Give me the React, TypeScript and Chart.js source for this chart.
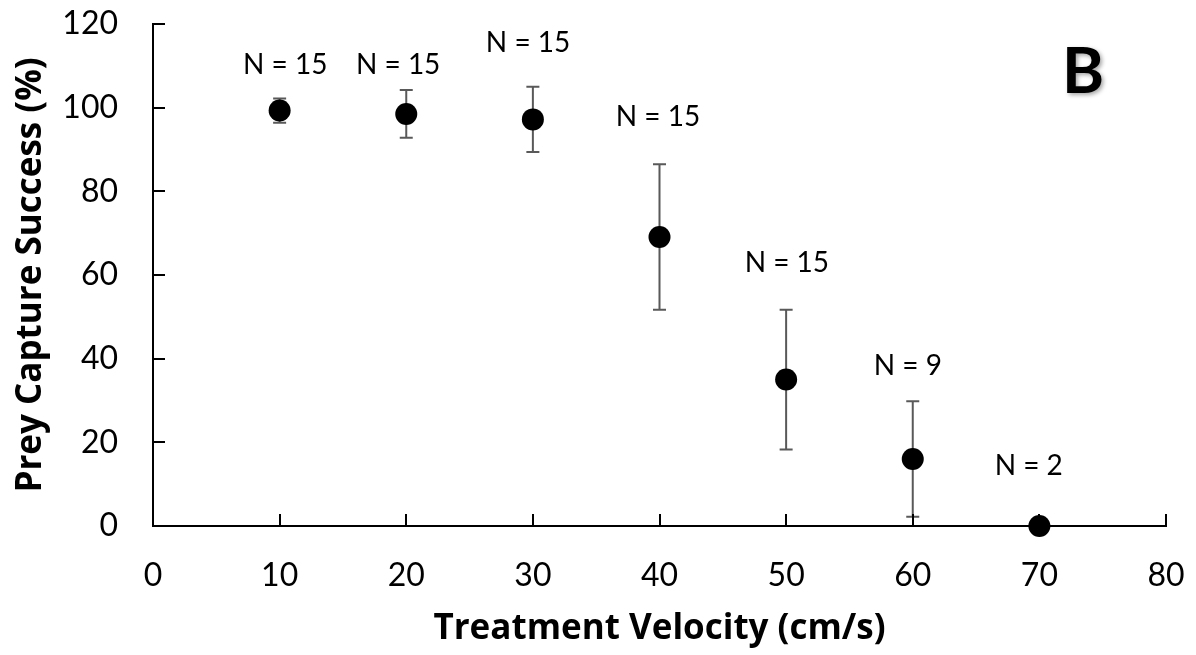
import React, { useEffect, useRef } from "react";
import { Chart, registerables } from "chart.js";

Chart.register(...registerables);

const velocities = [10, 20, 30, 40, 50, 60, 70];
const captureSuccess = [99.3, 98.5, 97.2, 69.1, 35.0, 16.0, 0];
const errorSize = [2.9, 5.7, 7.8, 17.4, 16.7, 13.8, 0];
const sampleLabels = ["N = 15", "N = 15", "N = 15", "N = 15", "N = 15", "N = 9", "N = 2"];
const labelX = [10.44, 19.36, 29.62, 39.88, 50.06, 59.61, 69.16];
const labelY = [110.5, 110.5, 115.65, 98.1, 63.1, 38.6, 14.7];
const xTicks = [0, 10, 20, 30, 40, 50, 60, 70, 80];
const yTicks = [0, 20, 40, 60, 80, 100, 120];
const panelLetter = "B";

const FONT = "Lato, 'Open Sans', sans-serif";
const TITLE_FONT = "'Open Sans', Lato, sans-serif";

const overlay = {
  id: "overlay",
  beforeDatasetsDraw(chart: any) {
    const { ctx, scales } = chart;
    const xs = scales.x;
    const ys = scales.y;
    ctx.save();
    ctx.strokeStyle = "#595959";
    ctx.lineWidth = 2;
    velocities.forEach((v, i) => {
      const e = errorSize[i];
      if (!e) return;
      const px = xs.getPixelForValue(v);
      const top = ys.getPixelForValue(captureSuccess[i] + e);
      const bot = ys.getPixelForValue(captureSuccess[i] - e);
      ctx.beginPath();
      ctx.moveTo(px, top);
      ctx.lineTo(px, bot);
      ctx.moveTo(px - 6.5, top);
      ctx.lineTo(px + 6.5, top);
      ctx.moveTo(px - 6.5, bot);
      ctx.lineTo(px + 6.5, bot);
      ctx.stroke();
    });
    ctx.strokeStyle = "#000";
    ctx.lineWidth = 2;
    const area = chart.chartArea;
    xTicks.forEach((t) => {
      const px = Math.round(xs.getPixelForValue(t));
      ctx.beginPath();
      ctx.moveTo(px, area.bottom);
      ctx.lineTo(px, area.bottom - 12);
      ctx.stroke();
    });
    yTicks.forEach((t) => {
      const py = Math.round(ys.getPixelForValue(t));
      ctx.beginPath();
      ctx.moveTo(area.left, py);
      ctx.lineTo(area.left + 12, py);
      ctx.stroke();
    });
    ctx.restore();
  },
  afterDraw(chart: any) {
    const { ctx, scales } = chart;
    const xs = scales.x;
    const ys = scales.y;
    ctx.save();
    ctx.fillStyle = "#000";
    ctx.font = `28px ${FONT}`;
    ctx.textAlign = "center";
    ctx.textBaseline = "alphabetic";
    sampleLabels.forEach((s, i) => {
      const px = xs.getPixelForValue(labelX[i]);
      const py = ys.getPixelForValue(labelY[i]);
      ctx.fillText(s, px, py + 0.36 * 28);
    });
    ctx.font = `bold 64px ${FONT}`;
    ctx.shadowColor = "rgba(0,0,0,0.35)";
    ctx.shadowBlur = 4;
    ctx.shadowOffsetX = 2;
    ctx.shadowOffsetY = 2;
    ctx.fillText(panelLetter, 1083, 70 + 0.36 * 64);
    ctx.restore();
  },
};

export default function App() {
  const ref = useRef<HTMLCanvasElement>(null);
  useEffect(() => {
    document.body.style.margin = "0";
    const canvas = ref.current!;
    const chart = new Chart(canvas, {
      type: "scatter",
      data: {
        datasets: [
          {
            data: velocities.map((v, i) => ({ x: v, y: captureSuccess[i] })),
            pointRadius: 11,
            pointHoverRadius: 11,
            pointBackgroundColor: "#000",
            pointBorderColor: "#000",
            pointBorderWidth: 0,
            showLine: false,
          },
        ],
      },
      options: {
        animation: false,
        responsive: false,
        devicePixelRatio: 1,
        clip: false as any,
        layout: { padding: { top: 24, right: 30, left: 0, bottom: 0 } },
        plugins: { legend: { display: false }, tooltip: { enabled: false } },
        scales: {
          x: {
            type: "linear",
            min: 0,
            max: 80,
            afterFit: (s: any) => {
              s.height = 129;
              s.paddingLeft = 0;
              s.paddingRight = 0;
            },
            afterBuildTicks: (s: any) => {
              s.ticks = xTicks.map((v) => ({ value: v }));
            },
            grid: { display: false, drawTicks: false },
            border: { display: true, color: "#000", width: 2 },
            ticks: {
              color: "#000",
              font: { family: FONT, size: 32 },
              padding: 30,
              maxRotation: 0,
            },
            title: {
              display: true,
              text: "Treatment Velocity (cm/s)",
              color: "#000",
              font: { family: TITLE_FONT, size: 35, weight: "bold" },
              padding: { top: 0, bottom: 5 },
            },
          },
          y: {
            type: "linear",
            min: 0,
            max: 120,
            afterFit: (s: any) => {
              s.width = 153;
              s.paddingTop = 0;
              s.paddingBottom = 0;
            },
            afterBuildTicks: (s: any) => {
              s.ticks = yTicks.map((v) => ({ value: v }));
            },
            grid: { display: false, drawTicks: false },
            border: { display: true, color: "#000", width: 2 },
            ticks: {
              color: "#000",
              font: { family: FONT, size: 32 },
              padding: 35,
            },
            title: {
              display: true,
              text: "Prey Capture Success (%)",
              color: "#000",
              font: { family: TITLE_FONT, size: 35, weight: "bold" },
              padding: { top: 10, bottom: 0 },
            },
          },
        },
      },
      plugins: [overlay],
    });
    return () => chart.destroy();
  }, []);
  return (
    <canvas
      ref={ref}
      width={1196}
      height={655}
      style={{ display: "block", width: 1196, height: 655 }}
    />
  );
}
